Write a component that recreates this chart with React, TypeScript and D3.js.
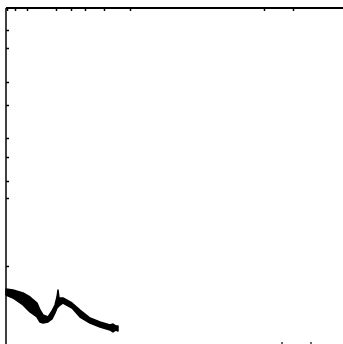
import React, { useEffect, useRef } from "react";
import * as d3 from "d3";

const W = 343;
const H = 344;

// band samples (distance along axis, upper and lower edge)
const xVals = [0, 7, 17, 24, 31, 34, 37, 42, 46, 49, 51, 52, 53, 57, 66, 74, 84, 94, 104, 107, 110, 112];
const upper = [281, 282, 285, 289, 295, 302, 307, 309, 303, 297, 289, 282, 290, 290, 295, 302, 310, 314, 317, 316, 318, 318];
const lower = [287, 290, 297, 304, 309, 314, 315, 314, 311, 305, 300, 299, 298, 295, 300, 309, 315, 319, 322, 324, 322, 323];

const topTicks = [1, 9, 21, 50, 65, 79, 98, 124, 258, 287];
const leftTicks = [22, 40, 74, 97, 130, 149, 173, 190, 258];
const bottomMarks = [275, 304];

export default function App() {
  const ref = useRef<SVGSVGElement>(null);
  useEffect(() => {
    const svg = d3.select(ref.current);
    svg.selectAll("*").remove();
    const x = d3.scaleLinear().domain([0, 337]).range([6, 343]);
    const y = d3.scaleLinear().domain([0, 336]).range([8, 344]);

    const area = d3
      .area<number>()
      .x((_, i) => x(xVals[i]))
      .y0((_, i) => y(lower[i]))
      .y1((_, i) => y(upper[i]))
      .curve(d3.curveLinear);
    svg
      .append("path")
      .attr("d", area(xVals) as string)
      .attr("fill", "#000")
      .attr("stroke", "#000")
      .attr("stroke-width", 1.5)
      .attr("stroke-linejoin", "round");

    const topAxis = d3.axisBottom(x).tickValues(topTicks).tickSize(3).tickFormat(() => "");
    const gt = svg.append("g").attr("transform", `translate(0,${y(0)})`).call(topAxis);
    gt.select(".domain").remove();
    gt.selectAll("line").attr("stroke", "#000").attr("stroke-width", 1.5);

    const leftAxis = d3.axisRight(y).tickValues(leftTicks).tickSize(3).tickFormat(() => "");
    const gl = svg.append("g").attr("transform", `translate(${x(0)},0)`).call(leftAxis);
    gl.select(".domain").remove();
    gl.selectAll("line").attr("stroke", "#000").attr("stroke-width", 1.5);

    svg
      .append("line")
      .attr("x1", x(0)).attr("x2", W).attr("y1", y(0)).attr("y2", y(0))
      .attr("stroke", "#000").attr("stroke-width", 2);
    svg
      .append("line")
      .attr("x1", x(0)).attr("x2", x(0)).attr("y1", y(0)).attr("y2", H)
      .attr("stroke", "#000").attr("stroke-width", 1.5);

    svg
      .selectAll("rect.bm")
      .data(bottomMarks)
      .join("rect")
      .attr("class", "bm")
      .attr("x", (d) => x(d))
      .attr("y", H - 2)
      .attr("width", 2)
      .attr("height", 2)
      .attr("fill", "#666");
  }, []);
  return (
    <svg
      ref={ref}
      width={W}
      height={H}
      style={{ position: "absolute", left: 0, top: 0, background: "#fff" }}
    />
  );
}
